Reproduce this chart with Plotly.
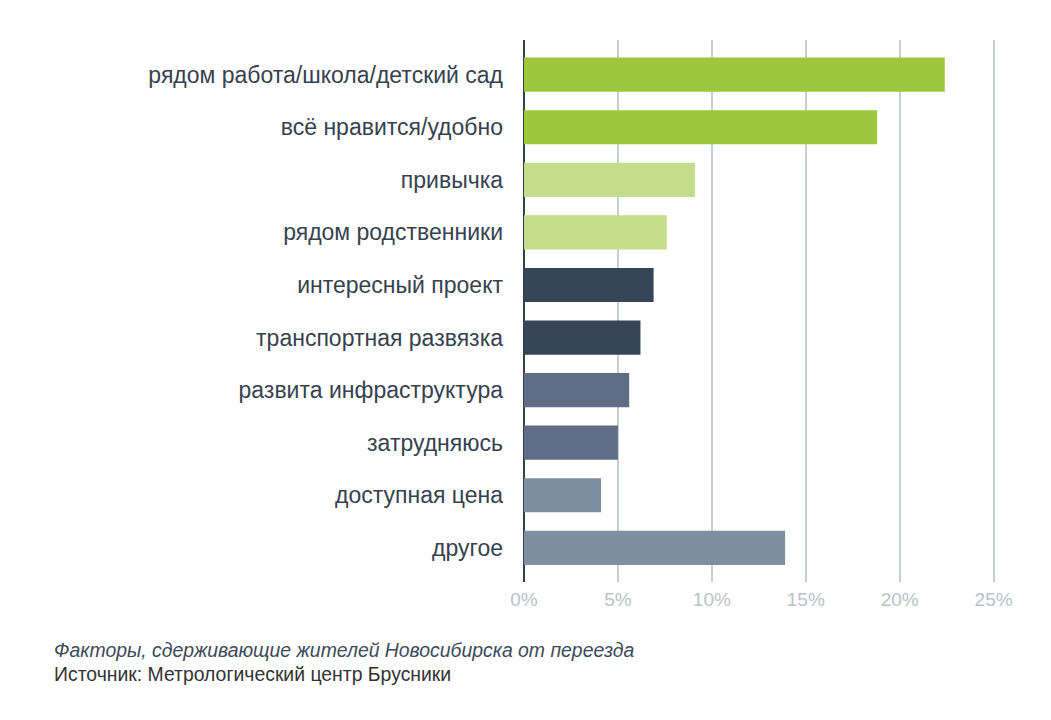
import plotly.graph_objects as go

# factors keeping Novosibirsk residents from moving (share of answers, %)
categories = [
    "рядом работа/школа/детский сад",
    "всё нравится/удобно",
    "привычка",
    "рядом родственники",
    "интересный проект",
    "транспортная развязка",
    "развита инфраструктура",
    "затрудняюсь",
    "доступная цена",
    "другое",
]
values = [22.4, 18.8, 9.1, 7.6, 6.9, 6.2, 5.6, 5.0, 4.1, 13.9]
bar_colors = [
    "#9dc83d", "#9dc83d",
    "#c3dd8d", "#c3dd8d",
    "#364459", "#364459",
    "#5f6e86", "#5f6e86",
    "#7e8ea3", "#7e8ea3",
]
tick_vals = [0, 5, 10, 15, 20, 25]
tick_text = ["0%", "5%", "10%", "15%", "20%", "25%"]

# the page body has an 8px margin, so the figure is drawn 8px smaller
L, T, PW, PH = 516, 32, 479.4, 542

fig = go.Figure(go.Bar(
    x=values,
    y=categories,
    orientation="h",
    marker=dict(color=bar_colors, line=dict(width=0)),
    width=0.65,
))

fig.update_layout(
    width=1035,
    height=704,
    margin=dict(l=L, r=1035 - L - PW, t=T, b=704 - T - PH),
    plot_bgcolor="white",
    paper_bgcolor="white",
    font=dict(family="Liberation Sans, Arial, sans-serif"),
    showlegend=False,
)

fig.update_xaxes(
    range=[0, 25.5],
    tickvals=tick_vals,
    ticktext=tick_text,
    showgrid=True,
    gridcolor="#c9ced2",
    gridwidth=1.5,
    zeroline=True,
    zerolinecolor="#3a3f45",
    zerolinewidth=1.5,
    tickfont=dict(size=19, color="#b9c1c9"),
    ticks="",
    ticklabelstandoff=4,
    showline=False,
)

fig.update_yaxes(
    categoryorder="array",
    categoryarray=categories,
    autorange=False,
    range=[9.65, -0.66],
    tickfont=dict(size=23, color="#36424f"),
    ticks="",
    ticklabelstandoff=20,
    showgrid=False,
)

fig.add_annotation(
    text="<i>Факторы, сдерживающие жителей Новосибирска от переезда</i>",
    xref="paper", yref="paper",
    x=(44 - L) / PW, y=-(642 - T - PH) / PH,
    xanchor="left", yanchor="middle",
    showarrow=False,
    font=dict(size=19.4, color="#3d4a5a"),
)
fig.add_annotation(
    text="Источник: Метрологический центр Брусники",
    xref="paper", yref="paper",
    x=(44 - L) / PW, y=-(666 - T - PH) / PH,
    xanchor="left", yanchor="middle",
    showarrow=False,
    font=dict(size=19.4, color="#333333"),
)

fig.write_html("out.html")
